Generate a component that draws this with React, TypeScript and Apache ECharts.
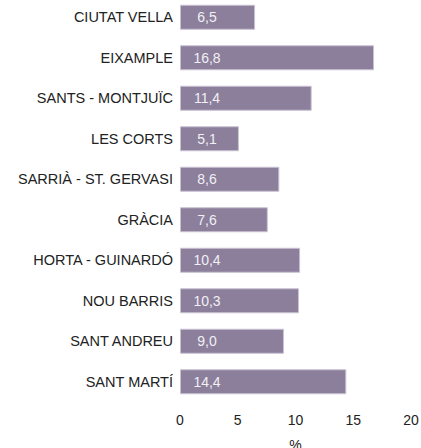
import React, { useEffect, useRef } from "react";
import * as echarts from "echarts";

const categories = [
  "CIUTAT VELLA",
  "EIXAMPLE",
  "SANTS - MONTJUÏC",
  "LES CORTS",
  "SARRIÀ - ST. GERVASI",
  "GRÀCIA",
  "HORTA - GUINARDÓ",
  "NOU BARRIS",
  "SANT ANDREU",
  "SANT MARTÍ",
];
const values = [6.5, 16.8, 11.4, 5.1, 8.6, 7.6, 10.4, 10.3, 9.0, 14.4];
const axisName = "%";

const FONT = "Liberation Sans, Arial, sans-serif";

export default function App() {
  const ref = useRef<HTMLDivElement>(null);
  useEffect(() => {
    if (!ref.current) return;
    const chart = echarts.init(ref.current, undefined, { renderer: "svg" });
    chart.setOption({
      animation: false,
      textStyle: { fontFamily: FONT },
      grid: {
        left: 180,
        right: 10,
        top: -3,
        bottom: 46,
        containLabel: false,
        outerBoundsMode: "none",
      },
      xAxis: {
        type: "value",
        min: 0,
        max: 20,
        interval: 5,
        axisLine: { show: false },
        axisTick: { show: false },
        splitLine: { show: false },
        axisLabel: { color: "#222", fontSize: 14, margin: 11, fontFamily: FONT },
        name: axisName,
        nameLocation: "middle",
        nameGap: 36,
        nameTextStyle: { color: "#222", fontSize: 14, fontFamily: FONT },
      },
      yAxis: {
        type: "category",
        data: categories,
        inverse: true,
        axisLine: { show: false },
        axisTick: { show: false },
        axisLabel: { color: "#222", fontSize: 14.5, margin: 7, fontFamily: FONT },
      },
      series: [
        {
          type: "bar",
          data: values,
          barWidth: 25,
          itemStyle: { color: "#8b7f9b", borderColor: "#c9c2d2", borderWidth: 1 },
          label: {
            show: true,
            position: [27, "50%"],
            align: "center",
            verticalAlign: "middle",
            color: "#f2f0f5",
            fontSize: 14,
            fontFamily: FONT,
            formatter: (p: any) => p.value.toFixed(1).replace(".", ","),
          },
        },
      ],
    });
    return () => chart.dispose();
  }, []);
  return (
    <div
      ref={ref}
      style={{ position: "fixed", left: 0, top: 0, width: 421, height: 448, background: "#fff" }}
    />
  );
}
